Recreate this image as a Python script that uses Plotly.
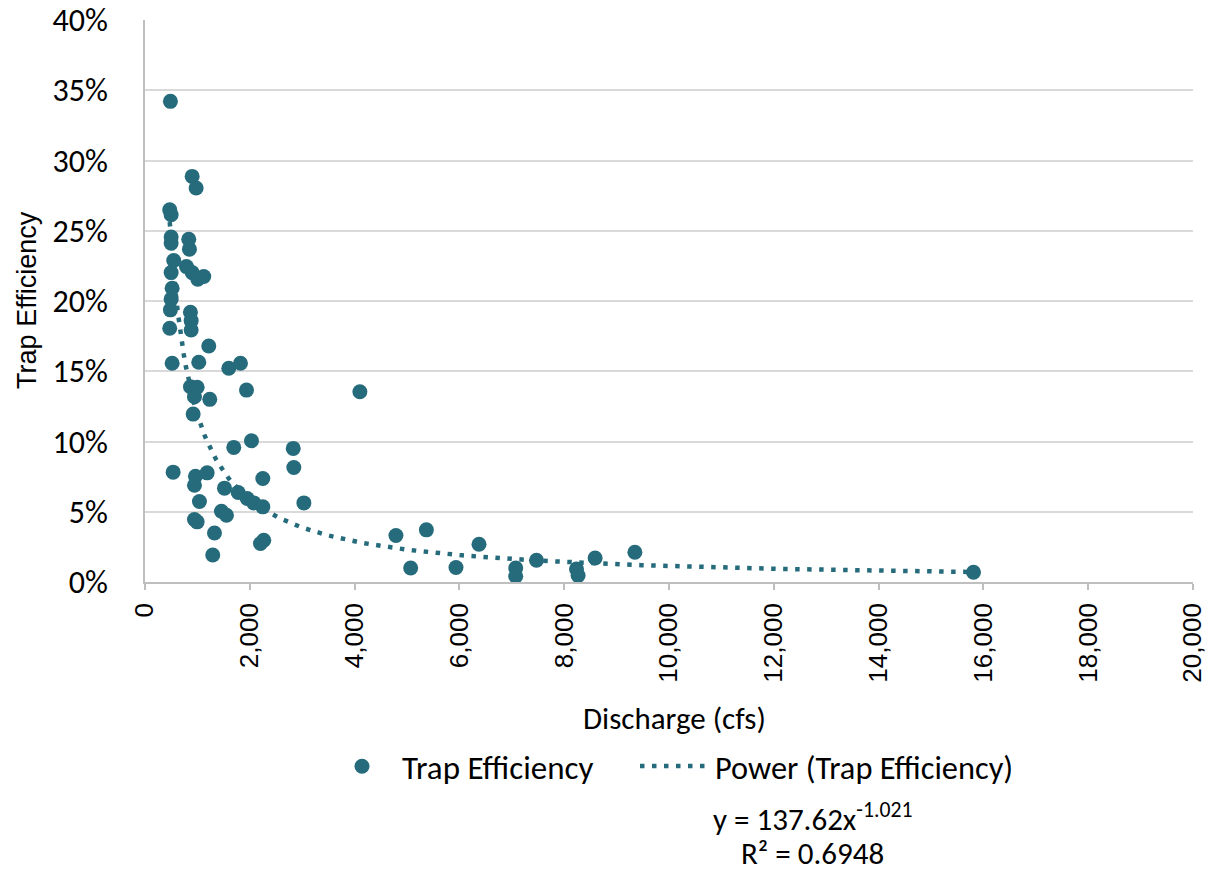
import numpy as np
import plotly.graph_objects as go

# Discharge (cfs) and trap efficiency (fraction)
discharge = [485, 900, 976, 472, 499, 499, 499, 835, 848, 548, 499, 791, 900, 1007, 1121,
             518, 499, 485, 867, 881, 881, 472, 1217, 518, 1026, 1599, 1822, 867, 995, 944,
             1236, 1937, 919, 1694, 2032, 2829, 2840, 537, 963, 1186, 944, 2248, 1517, 1778,
             1950, 2076, 2248, 3032, 1039, 944, 995, 1459, 1555, 1326, 2267, 2204, 1293,
             4101, 4789, 5370, 5070, 5935, 6374, 7075, 7075, 7471, 8235, 8265, 8590, 9349, 15811]
trap_eff = [34.21, 28.87, 28.04, 26.49, 26.14, 24.55, 24.12, 24.40, 23.69, 22.88, 22.02, 22.45,
            22.02, 21.55, 21.74, 20.91, 20.13, 19.37, 19.20, 18.60, 17.94, 18.06, 16.80, 15.57,
            15.64, 15.21, 15.57, 13.90, 13.86, 13.19, 13.00, 13.66, 11.95, 9.58, 10.05, 9.51,
            8.15, 7.82, 7.53, 7.77, 6.89, 7.37, 6.68, 6.37, 5.94, 5.63, 5.35, 5.63, 5.73, 4.45,
            4.28, 5.04, 4.75, 3.49, 2.97, 2.74, 1.92, 13.54, 3.31, 3.71, 1.00, 1.03, 2.69, 1.00,
            0.41, 1.55, 0.93, 0.46, 1.71, 2.12, 0.69]
trap_eff = [v / 100 for v in trap_eff]

# Power trendline coefficients (from chart label)
coef_a = 137.62
coef_b = -1.021
eq_text = "y = 137.62x<sup>-1.021</sup>"
r2_text = "R² = 0.6948"

x_ticks = list(range(0, 20001, 2000))
y_ticks = [0, 0.05, 0.10, 0.15, 0.20, 0.25, 0.30, 0.35, 0.40]

COLOR = "#266B7B"
FONT = "Carlito, Calibri, Lato, sans-serif"
ARIAL = "Liberation Sans, Arial, sans-serif"

tx = np.linspace(min(discharge), max(discharge), 400)
ty = coef_a * tx ** coef_b

fig = go.Figure()
fig.add_trace(go.Scatter(x=tx, y=ty, mode="lines", name="Power (Trap Efficiency)",
                         legend="legend2",
                         line=dict(color=COLOR, width=4.5, dash="4.5px,7.5px")))
fig.add_trace(go.Scatter(x=discharge, y=trap_eff, mode="markers", name="Trap Efficiency",
                         legend="legend",
                         marker=dict(color=COLOR, size=15, line=dict(width=0))))

legend_common = dict(orientation="h", xanchor="left", y=-0.328, yanchor="middle",
                     itemwidth=70, bgcolor="rgba(0,0,0,0)")

fig.update_layout(
    width=1212, height=871,
    margin=dict(l=145, r=19, t=20, b=289),
    plot_bgcolor="white", paper_bgcolor="white",
    font=dict(family=FONT, size=31, color="#000000"),
    showlegend=True,
    legend=dict(x=(322 - 145) / 1048, font=dict(size=33), **legend_common),
    legend2=dict(x=(635 - 145) / 1048, font=dict(size=32.4), **legend_common),
    xaxis=dict(range=[0, 20000], tickvals=x_ticks, tickformat=",d", tickangle=-90,
               showgrid=False, zeroline=False, showline=True, linecolor="#BFBFBF", linewidth=1.5,
               ticks="outside", ticklen=6, tickcolor="#BFBFBF", tickwidth=1.5,
               tickfont=dict(size=26, family=ARIAL), automargin=False, ticklabelstandoff=3),
    yaxis=dict(range=[0, 0.40], tickvals=y_ticks, tickformat=".0%",
               showgrid=True, gridcolor="#D9D9D9", gridwidth=1.5, zeroline=False,
               showline=True, linecolor="#BFBFBF", linewidth=1.5, ticks="",
               tickfont=dict(size=32), automargin=False, ticklabelstandoff=29),
)

fig.add_annotation(text="Discharge (cfs)", xref="paper", yref="paper", x=0.505, y=0,
                   yshift=-136, showarrow=False, font=dict(size=31), yanchor="middle")
fig.add_annotation(text="Trap Efficiency", xref="paper", yref="paper", x=0, y=0.502,
                   xshift=-118, textangle=-90, showarrow=False, font=dict(size=27, family=ARIAL),
                   xanchor="center", yanchor="middle")
fig.add_annotation(text=eq_text, xref="paper", yref="paper", x=0.637, y=0, yshift=-235,
                   showarrow=False, font=dict(size=31), yanchor="middle")
fig.add_annotation(text=r2_text, xref="paper", yref="paper", x=0.637, y=0, yshift=-271,
                   showarrow=False, font=dict(size=31), yanchor="middle")

fig.write_html("out.html")
